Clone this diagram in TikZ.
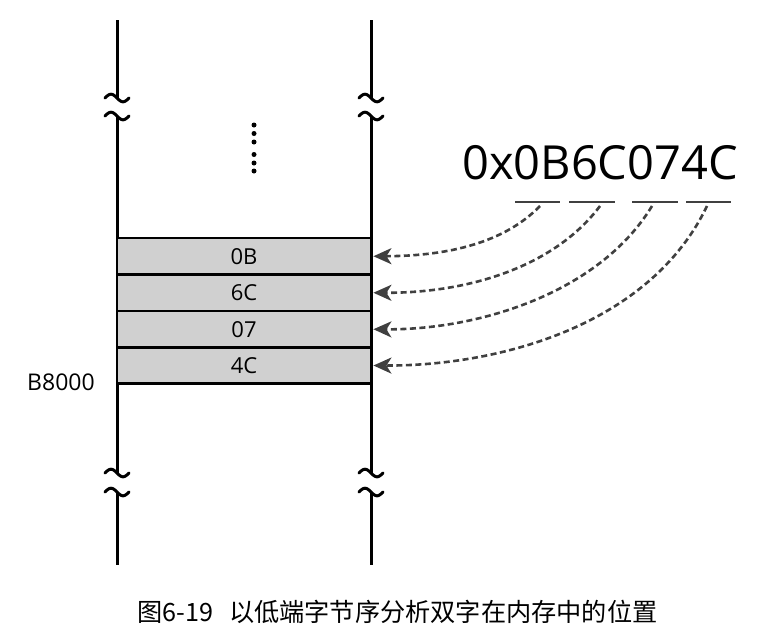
\documentclass[tikz,border=0pt]{standalone}
\usepackage{fontspec}
\setmainfont{Open Sans}
\newfontfamily\cjk{Noto Sans CJK SC}
\usetikzlibrary{arrows.meta}
\definecolor{cellgray}{HTML}{D0D0D0}
\definecolor{arrowgray}{HTML}{404040}
\tikzset{
  tipstealth/.tip={Stealth[length=18pt,width=16pt,inset=5pt]}
}
\begin{document}
\begin{tikzpicture}[x=1pt,y=-1pt,
  rail/.style={line width=3pt},
  wave/.style={line width=3pt, line cap=round},
  cell/.style={draw, line width=2.8pt, fill=cellgray, minimum width=254pt, minimum height=36.5pt, inner sep=0pt, font=\fontsize{22}{26}\selectfont},
  link/.style={draw=arrowgray, line width=2.6pt, dash pattern=on 6pt off 3.5pt},
  uline/.style={line width=2.8pt, arrowgray},
  dot/.style={circle, fill=black, inner sep=0pt, minimum size=5pt}
]
\useasboundingbox (0,0) rectangle (757,640);
% rails with breaks
\foreach \x in {117,371}{
  \draw[rail] (\x,20) -- (\x,98);
  \draw[rail] (\x,116) -- (\x,473);
  \draw[rail] (\x,492) -- (\x,565);
  \foreach \y in {98,116,473,492}{
    \draw[wave] plot[smooth,variable=\t,domain=-12:12,samples=25] ({\x+\t}, {\y+3.8*sin(15*\t)});
  }
}
% dots
\foreach \y [count=\i] in {125,133.5,142,154.5,163,171}{
  \node[dot] (d\i) at (254,\y) {};
}
% cells
\node[cell] (r1) at (244,256.25) {0B};
\node[cell] (r2) at (244,292.75) {6C};
\node[cell] (r3) at (244,329.25) {07};
\node[cell] (r4) at (244,365.5) {4C};
\node[font=\fontsize{23}{26}\selectfont] (addr) at (61,382) {B8000};
% value
\node[font=\fontsize{47}{54}\selectfont, inner sep=0pt] (val) at (600,163) {0x0B6C074C};
\draw[uline] (515,202) -- (560,202);
\draw[uline] (569,202) -- (615,202);
\draw[uline] (632,202) -- (678,202);
\draw[uline] (686,202) -- (731,202);
\coordinate (s1) at (540,206);
\coordinate (s2) at (600,206);
\coordinate (s3) at (652,206);
\coordinate (s4) at (707,206);
\draw[link, -tipstealth] (s1) .. controls (505,242) and (450,256) .. ([xshift=1pt]r1.east);
\draw[link, -tipstealth] (s2) .. controls (555,266) and (470,293) .. ([xshift=1pt]r2.east);
\draw[link, -tipstealth] (s3) .. controls (600,292) and (480,330) .. ([xshift=1pt]r3.east);
\draw[link, -tipstealth] (s4) .. controls (650,325) and (500,366) .. ([xshift=1pt]r4.east);
% caption
\node[font=\cjk\fontsize{25.2}{30}\selectfont, anchor=west, inner sep=0pt] (cap) at (137,612) {图6-19\hspace{16pt}以低端字节序分析双字在内存中的位置};
\end{tikzpicture}
\end{document}
